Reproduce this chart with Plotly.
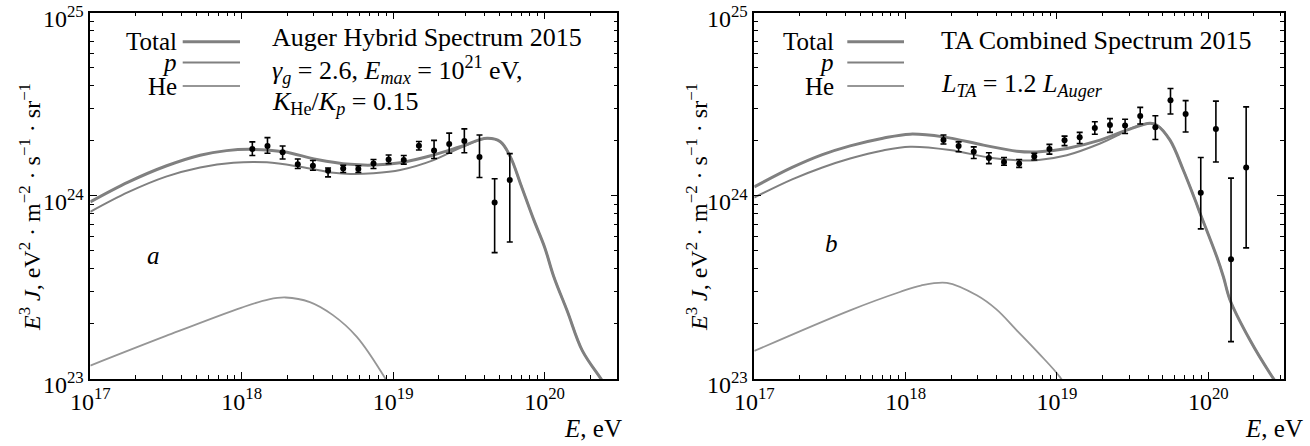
import numpy as np
import plotly.graph_objects as go

# ---------------- data (log10 E in eV; J values in units of 1e24) ----------------
auger_lgE = [18.07, 18.17, 18.27, 18.37, 18.47, 18.57, 18.67, 18.77, 18.87, 18.97,
             19.07, 19.17, 19.27, 19.37, 19.47, 19.57, 19.67, 19.77]
auger_J = [1.80, 1.87, 1.73, 1.49, 1.46, 1.37, 1.41, 1.40, 1.50, 1.58,
           1.57, 1.88, 1.77, 1.92, 1.99, 1.63, 0.92, 1.22]
auger_hi = [1.97, 2.08, 1.87, 1.59, 1.56, 1.42, 1.47, 1.46, 1.58, 1.67,
            1.66, 1.98, 2.01, 2.20, 2.32, 2.15, 1.24, 1.70]
auger_lo = [1.66, 1.71, 1.59, 1.41, 1.38, 1.27, 1.34, 1.34, 1.41, 1.50,
            1.49, 1.78, 1.60, 1.71, 1.72, 1.26, 0.49, 0.56]

ta_lgE = [18.25, 18.35, 18.45, 18.55, 18.65, 18.75, 18.85, 18.95, 19.05, 19.15,
          19.25, 19.35, 19.45, 19.55, 19.65, 19.75, 19.85, 19.95, 20.05, 20.15, 20.25]
ta_J = [2.02, 1.87, 1.74, 1.61, 1.53, 1.50, 1.64, 1.80, 2.01, 2.09,
        2.35, 2.44, 2.42, 2.73, 2.37, 3.33, 2.80, 1.04, 2.32, 0.45, 1.43]
ta_hi = [2.15, 1.97, 1.85, 1.72, 1.62, 1.58, 1.71, 1.91, 2.12, 2.22,
         2.54, 2.64, 2.62, 3.04, 2.74, 3.86, 3.31, 1.62, 3.29, 1.25, 3.06]
ta_lo = [1.92, 1.74, 1.60, 1.50, 1.47, 1.43, 1.57, 1.69, 1.88, 1.93,
         2.17, 2.22, 2.19, 2.47, 2.03, 2.80, 2.23, 0.66, 1.53, 0.16, 0.52]

# model curves (log10 E, log10 E^3 J)
a_tot_lgE = [17.0, 17.25, 17.5, 17.725, 17.9, 18.056, 18.276, 18.496, 18.716, 18.87,
             19.047, 19.267, 19.443, 19.62, 19.708, 19.774, 19.84, 19.928, 20.0, 20.06,
             20.15, 20.249, 20.381, 20.45]
a_tot_lgV = [23.967, 24.075, 24.163, 24.222, 24.247, 24.254, 24.241, 24.199, 24.172, 24.168,
             24.181, 24.223, 24.268, 24.314, 24.295, 24.213, 24.068, 23.87, 23.72, 23.56,
             23.37, 23.155, 22.99, 22.9]
a_p_lgE = [17.0, 17.25, 17.5, 17.725, 17.945, 18.166, 18.386, 18.606, 18.716, 18.87,
           19.047, 19.267, 19.443, 19.62, 19.708, 19.774, 19.84, 19.928, 20.0, 20.06,
           20.15, 20.249, 20.381, 20.45]
a_p_lgV = [23.913, 24.02, 24.105, 24.155, 24.181, 24.183, 24.159, 24.126, 24.119, 24.123,
           24.141, 24.195, 24.262, 24.314, 24.295, 24.213, 24.068, 23.87, 23.72, 23.56,
           23.37, 23.155, 22.99, 22.9]
a_he_lgE = [17.0, 17.5, 18.0, 18.18, 18.29, 18.45, 18.6, 18.76, 18.95, 19.05]
a_he_lgV = [23.073, 23.235, 23.39, 23.435, 23.445, 23.42, 23.35, 23.23, 23.0, 22.85]

b_tot_lgE = [17.0, 17.25, 17.45, 17.633, 17.85, 18.029, 18.249, 18.514, 18.734, 18.866,
             19.065, 19.285, 19.461, 19.615, 19.66, 19.747, 19.835, 19.913, 19.946, 20.056,
             20.10, 20.144, 20.276, 20.408, 20.5]
b_tot_lgV = [24.049, 24.155, 24.225, 24.273, 24.315, 24.337, 24.322, 24.277, 24.244, 24.240,
             24.259, 24.304, 24.359, 24.396, 24.386, 24.304, 24.140, 23.977, 23.904, 23.667,
             23.557, 23.43, 23.211, 23.03, 22.92]
b_p_lgE = [17.0, 17.25, 17.45, 17.633, 17.85, 18.029, 18.293, 18.558, 18.734, 18.866,
           19.065, 19.285, 19.4, 19.461, 19.615, 19.66, 19.747, 19.835, 19.913, 19.946,
           20.056, 20.10, 20.144, 20.276, 20.408, 20.5]
b_p_lgV = [23.991, 24.09, 24.155, 24.204, 24.248, 24.268, 24.250, 24.208, 24.195, 24.195,
           24.222, 24.286, 24.33, 24.359, 24.396, 24.386, 24.304, 24.140, 23.977, 23.904,
           23.667, 23.557, 23.43, 23.211, 23.03, 22.92]
b_he_lgE = [17.0, 17.633, 17.962, 18.1, 18.272, 18.47, 18.6, 18.734, 18.88, 19.02, 19.1]
b_he_lgV = [23.153, 23.375, 23.475, 23.51, 23.525, 23.457, 23.38, 23.266, 23.14, 23.01, 22.9]

x_ticks = [17, 18, 19, 20]
y_ticks = [23, 24, 25]

# ---------------- figure ----------------
W, H = 1310, 446
FONT = "Liberation Serif"
GRAY = "rgb(128,128,128)"
GRAY_HE = "rgb(150,150,150)"


def px(x):
    return x / W


def py(y):
    return 1 - y / H


fig = go.Figure()


def add_curves(lgE_t, lgV_t, lgE_p, lgV_p, lgE_h, lgV_h, xa, ya):
    for lgE, lgV, col, wid in [(lgE_h, lgV_h, GRAY_HE, 1.8),
                               (lgE_p, lgV_p, GRAY, 2.0),
                               (lgE_t, lgV_t, GRAY, 3.0)]:
        fig.add_trace(go.Scatter(x=10.0 ** np.array(lgE), y=10.0 ** np.array(lgV),
                                 mode="lines", line=dict(color=col, width=wid, shape="spline"),
                                 xaxis=xa, yaxis=ya, showlegend=False, hoverinfo="skip"))


def add_data(lgE, J, hi, lo, xa, ya):
    J = np.array(J); hi = np.array(hi); lo = np.array(lo)
    fig.add_trace(go.Scatter(x=10.0 ** np.array(lgE), y=J * 1e24, mode="markers",
                             marker=dict(color="black", size=6),
                             error_y=dict(type="data", symmetric=False,
                                          array=(hi - J) * 1e24, arrayminus=(J - lo) * 1e24,
                                          color="black", thickness=1.6, width=3),
                             xaxis=xa, yaxis=ya, showlegend=False))


add_curves(a_tot_lgE, a_tot_lgV, a_p_lgE, a_p_lgV, a_he_lgE, a_he_lgV, "x", "y")
add_data(auger_lgE, auger_J, auger_hi, auger_lo, "x", "y")
add_curves(b_tot_lgE, b_tot_lgV, b_p_lgE, b_p_lgV, b_he_lgE, b_he_lgV, "x2", "y2")
add_data(ta_lgE, ta_J, ta_hi, ta_lo, "x2", "y2")


def minor_vals(decades):
    return [k * 10.0 ** d for d in decades for k in range(2, 10)]


ydom = [py(379), py(12.7)]
axcommon = dict(type="log", showgrid=False, zeroline=False, showline=True, linecolor="black",
                linewidth=1.5, mirror="ticks", ticks="inside", ticklen=7, tickwidth=1,
                tickcolor="black", automargin=False, ticklabeloverflow="allow",
                tickfont=dict(family=FONT, size=24, color="black"))

xt = dict(tickmode="array", tickvals=[10.0 ** v for v in x_ticks],
          ticktext=["10<sup>%d</sup>" % v for v in x_ticks],
          minor=dict(tickmode="array", tickvals=minor_vals([17, 18, 19, 20]), ticks="inside",
                     ticklen=4, tickcolor="black", tickwidth=1, showgrid=False))
yt = dict(tickmode="array", tickvals=[10.0 ** v for v in y_ticks],
          ticktext=["10<sup>%d</sup>" % v for v in y_ticks], ticklabelshift=6,
          minor=dict(tickmode="array", tickvals=minor_vals([23, 24]), ticks="inside",
                     ticklen=4, tickcolor="black", tickwidth=1, showgrid=False))

fig.update_layout(
    width=W, height=H, margin=dict(l=0, r=0, t=0, b=0, autoexpand=False),
    paper_bgcolor="white", plot_bgcolor="white",
    xaxis=dict(domain=[px(90.3), px(617.3)], range=[17, 20.48], anchor="y", **axcommon, **xt),
    yaxis=dict(domain=ydom, range=[22.9999, 25.0001], anchor="x", **axcommon, **yt),
    xaxis2=dict(domain=[px(754.3), px(1284)], range=[17, 20.50], anchor="y2", **axcommon, **xt),
    yaxis2=dict(domain=ydom, range=[22.9999, 25.0001], anchor="x2", **axcommon, **yt),
)

ann = []
shapes = []
TF = dict(family=FONT, size=25, color="black")
TF2 = dict(family=FONT, size=26, color="black")
ytitle = ("<i>E</i><sup>3</sup> <i>J</i>, eV<sup>2</sup> · m<sup>−2</sup> · s<sup>−1</sup> · sr<sup>−1</sup>")
for xc, xr in [(30, 624), (697, 1305)]:
    ann.append(dict(text=ytitle, x=px(xc), y=py(207), xref="paper", yref="paper", textangle=-90,
                    showarrow=False, font=dict(family=FONT, size=24, color="black"),
                    xanchor="center", yanchor="middle"))
    ann.append(dict(text="<i>E</i>, eV", x=px(xr), y=py(428), xref="paper", yref="paper",
                    showarrow=False, font=TF, xanchor="right", yanchor="middle"))

# legends (text left of line sample)
for xr, l0, l1 in [(179, 182.7, 240), (836, 847.3, 904)]:
    for lab, yy, col, wid in [("Total", 41.7, GRAY, 3.0), ("<i>p</i>", 62.5, GRAY, 2.0),
                              ("He", 86, GRAY_HE, 1.8)]:
        ann.append(dict(text=lab, x=px(xr), y=py(yy), xref="paper", yref="paper", showarrow=False,
                        font=TF, xanchor="right", yanchor="middle"))
        shapes.append(dict(type="line", xref="paper", yref="paper", x0=px(l0), x1=px(l1),
                           y0=py(yy), y1=py(yy), line=dict(color=col, width=wid)))

# panel texts
ann.append(dict(text="Auger Hybrid Spectrum 2015", x=px(270), y=py(37), xref="paper", yref="paper",
                showarrow=False, font=TF2, xanchor="left", yanchor="middle"))
ann.append(dict(text="<i>γ<sub>g</sub></i> = 2.6, <i>E<sub>max</sub></i> = 10<sup>21</sup> eV,",
                x=px(270), y=py(70), xref="paper", yref="paper",
                showarrow=False, font=TF2, xanchor="left", yanchor="middle"))
ann.append(dict(text="<i>K</i><sub>He</sub>/<i>K<sub>p</sub></i> = 0.15",
                x=px(270), y=py(103), xref="paper", yref="paper",
                showarrow=False, font=TF2, xanchor="left", yanchor="middle"))
ann.append(dict(text="TA Combined Spectrum 2015", x=px(939), y=py(40), xref="paper", yref="paper",
                showarrow=False, font=TF2, xanchor="left", yanchor="middle"))
ann.append(dict(text="<i>L<sub>TA</sub></i> = 1.2 <i>L<sub>Auger</sub></i>",
                x=px(939), y=py(85), xref="paper", yref="paper",
                showarrow=False, font=TF2, xanchor="left", yanchor="middle"))
ann.append(dict(text="<i>a</i>", x=px(153), y=py(255), xref="paper", yref="paper",
                showarrow=False, font=TF, xanchor="center", yanchor="middle"))
ann.append(dict(text="<i>b</i>", x=px(831), y=py(243), xref="paper", yref="paper",
                showarrow=False, font=TF, xanchor="center", yanchor="middle"))

fig.update_layout(annotations=ann, shapes=shapes)
fig.write_html("out.html", config={"displayModeBar": False},
               post_script="document.body.style.margin='0px';document.body.style.overflow='hidden';")
